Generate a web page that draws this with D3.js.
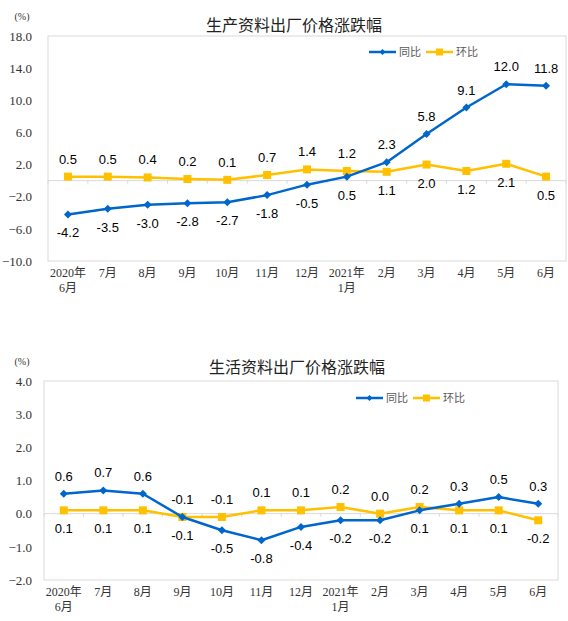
<!DOCTYPE html>
<html>
<head>
<meta charset="utf-8">
<script src="https://cdn.jsdelivr.net/npm/d3@7"></script>
<style>
  body { margin: 0; background: #fff; }
  svg { display: block; }
</style>
</head>
<body>
<div id="chart"></div>
<script>
// categories shared by both panels
var months = ["2020年|6月", "7月", "8月", "9月", "10月", "11月", "12月", "2021年|1月", "2月", "3月", "4月", "5月", "6月"];

// 生产资料
var prodYoy = [-4.2, -3.5, -3.0, -2.8, -2.7, -1.8, -0.5, 0.5, 2.3, 5.8, 9.1, 12.0, 11.8];
var prodMom = [0.5, 0.5, 0.4, 0.2, 0.1, 0.7, 1.4, 1.2, 1.1, 2.0, 1.2, 2.1, 0.5];
var prodTicks = [-10, -6, -2, 2, 6, 10, 14, 18];

// 生活资料
var lifeYoy = [0.6, 0.7, 0.6, -0.1, -0.5, -0.8, -0.4, -0.2, -0.2, 0.1, 0.3, 0.5, 0.3];
var lifeMom = [0.1, 0.1, 0.1, -0.1, -0.1, 0.1, 0.1, 0.2, 0.0, 0.2, 0.1, 0.1, -0.2];
var lifeTicks = [-2, -1, 0, 1, 2, 3, 4];

var blue = "#0066cc", yellow = "#ffc000";
var serif = "'Liberation Serif', 'Times New Roman', 'Noto Sans CJK SC', serif";
var sans = "'Liberation Sans', Arial, sans-serif";
var cjk = "'Noto Sans CJK SC', sans-serif";

var svg = d3.select("#chart").append("svg")
    .attr("width", 568)
    .attr("height", 621);

function drawPanel(p) {
    var g = svg.append("g");

    var x = d3.scaleBand().domain(d3.range(months.length)).range([p.left, p.right]).padding(0);
    var y = d3.scaleLinear().domain(d3.extent(p.ticks)).range([p.bottom, p.top]);

    // plot frame
    g.append("rect")
        .attr("x", p.left).attr("y", p.top)
        .attr("width", p.right - p.left).attr("height", p.bottom - p.top)
        .attr("fill", "none").attr("stroke", "#d9d9d9").attr("stroke-width", 1);

    // y axis labels
    var yaxis = d3.axisLeft(y).tickValues(p.ticks).tickSize(0).tickPadding(p.left - 32)
        .tickFormat(d3.format(".1f"));
    var ya = g.append("g").attr("transform", "translate(" + p.left + ",0)").call(yaxis);
    ya.select(".domain").remove();
    ya.selectAll("text").style("font", "13px " + serif).attr("fill", "#333");

    // zero line with small ticks at band edges
    var edges = d3.range(months.length + 1).map(function (i) { return p.left + i * x.step(); });
    g.append("line")
        .attr("x1", p.left).attr("x2", p.right)
        .attr("y1", y(0)).attr("y2", y(0))
        .attr("stroke", "#d9d9d9").attr("stroke-width", 1);
    g.selectAll(".ztick").data(edges).enter().append("line")
        .attr("x1", function (d) { return d; }).attr("x2", function (d) { return d; })
        .attr("y1", y(0)).attr("y2", y(0) + 3)
        .attr("stroke", "#d9d9d9");

    // x labels at bottom
    var xl = g.selectAll(".xlab").data(months).enter().append("text")
        .attr("text-anchor", "middle")
        .style("font", "12px " + serif)
        .attr("fill", "#333");
    xl.each(function (d, i) {
        var parts = d.split("|");
        var t = d3.select(this);
        parts.forEach(function (s, k) {
            t.append("tspan")
                .attr("x", x(i) + x.bandwidth() / 2)
                .attr("y", p.bottom + 16 + k * 15)
                .text(s);
        });
    });

    // (%) and title
    g.append("text").attr("x", 22).attr("y", p.top - 16)
        .attr("text-anchor", "middle")
        .style("font", "10px " + serif).attr("fill", "#333").text("(%)");
    g.append("text").attr("x", p.titleX).attr("y", p.titleY)
        .attr("text-anchor", "middle")
        .style("font", "16px " + cjk).attr("fill", "#222").text(p.title);

    var cx = function (d, i) { return x(i) + x.bandwidth() / 2; };
    var line = d3.line().x(cx).y(function (d) { return y(d); });

    // 环比 line + squares
    g.append("path").datum(p.mom)
        .attr("fill", "none").attr("stroke", yellow).attr("stroke-width", 2.5)
        .attr("stroke-linejoin", "round").attr("d", line);
    g.selectAll(".sq").data(p.mom).enter().append("rect")
        .attr("x", function (d, i) { return cx(d, i) - 4; })
        .attr("y", function (d) { return y(d) - 4; })
        .attr("width", 8).attr("height", 8).attr("fill", yellow);

    // 同比 line + diamonds
    g.append("path").datum(p.yoy)
        .attr("fill", "none").attr("stroke", blue).attr("stroke-width", 2.5)
        .attr("stroke-linejoin", "round").attr("d", line);
    g.selectAll(".dm").data(p.yoy).enter().append("path")
        .attr("d", "M0,-4L4,0L0,4L-4,0Z")
        .attr("transform", function (d, i) { return "translate(" + cx(d, i) + "," + y(d) + ")"; })
        .attr("fill", blue);

    // data labels: higher series above, lower series below
    function labels(vals, other, isYoy) {
        g.selectAll(null).data(vals).enter().append("text")
            .attr("x", cx)
            .attr("y", function (d, i) {
                var up = isYoy ? d > other[i] : !(other[i] > d);
                return up ? y(d) - 13 : y(d) + 23;
            })
            .attr("text-anchor", "middle")
            .style("font", "13px " + sans)
            .attr("fill", "#000")
            .text(function (d) { return d.toFixed(1); });
    }
    labels(p.yoy, p.mom, true);
    labels(p.mom, p.yoy, false);

    // legend
    var lg = g.append("g").attr("transform", "translate(" + p.legX + "," + p.legY + ")");
    [["同比", blue, "d"], ["环比", yellow, "s"]].forEach(function (s, k) {
        var ox = k * 57;
        lg.append("line").attr("x1", ox).attr("x2", ox + 27).attr("y1", 0).attr("y2", 0)
            .attr("stroke", s[1]).attr("stroke-width", 2.5);
        if (s[2] === "d") {
            lg.append("path").attr("d", "M0,-3L3,0L0,3L-3,0Z")
                .attr("transform", "translate(" + (ox + 13.5) + ",0)").attr("fill", s[1]);
        } else {
            lg.append("rect").attr("x", ox + 10).attr("y", -3.5).attr("width", 7).attr("height", 7).attr("fill", s[1]);
        }
        lg.append("text").attr("x", ox + 30).attr("y", 4)
            .style("font", "11px " + cjk).attr("fill", "#595959").text(s[0]);
    });
}

drawPanel({
    yoy: prodYoy, mom: prodMom, ticks: prodTicks,
    left: 48, right: 566, top: 36, bottom: 261,
    title: "生产资料出厂价格涨跌幅", titleX: 294, titleY: 31,
    legX: 369, legY: 52
});

drawPanel({
    yoy: lifeYoy, mom: lifeMom, ticks: lifeTicks,
    left: 44, right: 558, top: 381, bottom: 580,
    title: "生活资料出厂价格涨跌幅", titleX: 297, titleY: 373,
    legX: 356, legY: 398
});
</script>
</body>
</html>
